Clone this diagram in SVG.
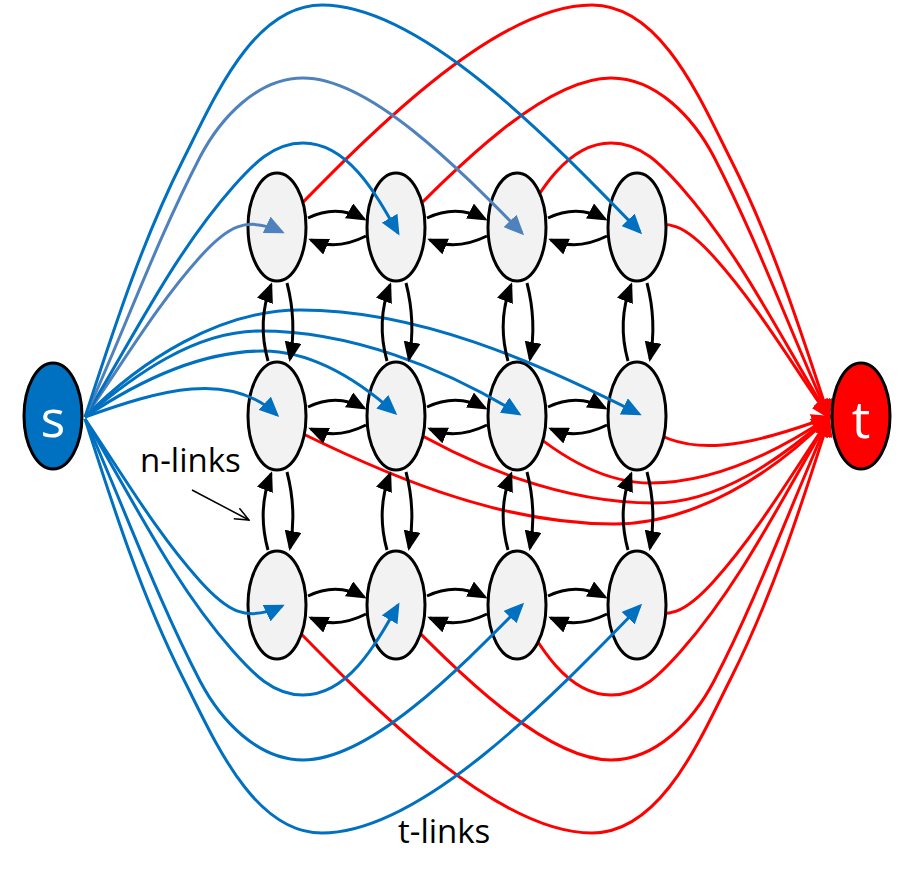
<svg xmlns="http://www.w3.org/2000/svg" width="912" height="878" viewBox="0 0 912 878">
<defs>
<style>
.node{fill:#F2F2F2;stroke:#000;stroke-width:3}
.lk{fill:none;stroke-width:3}
.bl{stroke:#0070C0;marker-end:url(#abl)}
.lb{stroke:#4F81BD;marker-end:url(#alb)}
.rd{stroke:#FF0000;marker-end:url(#ar)}
.nl{fill:none;stroke:#000;stroke-width:3;marker-end:url(#ab)}
.lbl{font-family:"Open Sans","Noto Sans","DejaVu Sans",sans-serif;font-size:33px;fill:#000}
.big{font-family:"Open Sans","Noto Sans","DejaVu Sans",sans-serif;font-size:52px;fill:#fff;text-anchor:middle}
</style>
<marker id="ab" markerUnits="userSpaceOnUse" viewBox="0 0 20 17" markerWidth="20" markerHeight="17" refX="17" refY="8.5" orient="auto"><path d="M0,0 L20,8.5 L0,17 z" fill="#000"/></marker>
<marker id="abl" markerUnits="userSpaceOnUse" viewBox="0 0 20 18" markerWidth="20" markerHeight="18" refX="17" refY="9" orient="auto"><path d="M0,0 L20,9 L0,18 z" fill="#0070C0"/></marker>
<marker id="alb" markerUnits="userSpaceOnUse" viewBox="0 0 20 18" markerWidth="20" markerHeight="18" refX="17" refY="9" orient="auto"><path d="M0,0 L20,9 L0,18 z" fill="#4F81BD"/></marker>
<marker id="ar" markerUnits="userSpaceOnUse" viewBox="0 0 20 18" markerWidth="20" markerHeight="18" refX="17" refY="9" orient="auto"><path d="M0,0 L20,9 L0,18 z" fill="#FF0000"/></marker>
<marker id="aopen" markerUnits="userSpaceOnUse" viewBox="0 0 16 14" markerWidth="16" markerHeight="14" refX="15" refY="7" orient="auto"><path d="M1,1 L15,7 L1,13" fill="none" stroke="#000" stroke-width="1.5"/></marker>
</defs>
<rect width="912" height="878" fill="#fff"/>

<g id="t-links-sink">
<path class="lk rd" d="M274,232 C365,138 494,5 592,5 C661,5 700,98.6 731,160 C772.4,242 800.5,330 829,417"/>
<path class="lk rd" d="M392,233 C455,169 544,78 611,78 C656,78 693,117 714,157 C758,242 790,331 829,417"/>
<path class="lk rd" d="M516,233 C538,194 566,143 611,143 C641,143 661,164.5 681,187 C741,255 782,340 829,417"/>
<path class="lk rd" d="M632,232 C668,215 687,227 714,257 C758,306 791,363 829,417"/>
<path class="lk rd" d="M275,420 C380,473 496,524 614,524 C694,524 773,474 829,417"/>
<path class="lk rd" d="M395,420 C472,467 564,503 654,503 C719,503 780,459 829,417"/>
<path class="lk rd" d="M519,421 C556,454 601,483 651,483 C714,483 777,452 829,417"/>
<path class="lk rd" d="M637,419 C684,464 754,444 829,417"/>
<path class="lk rd" d="M274,606 C365,700 494,833 592,833 C661,833 700,739.4 731,678 C772.4,596 800.5,508 829,419"/>
<path class="lk rd" d="M392,605 C455,669 544,760 611,760 C656,760 693,721 714,681 C758,596 790,507 829,419"/>
<path class="lk rd" d="M516,605 C538,644 566,695 611,695 C641,695 661,673.5 681,651 C741,583 782,498 829,419"/>
<path class="lk rd" d="M632,606 C668,623 687,611 714,581 C758,532 791,475 829,419"/>
</g>

<g id="n11"><ellipse class="node" cx="277" cy="227" rx="29" ry="54"/></g>
<g id="n12"><ellipse class="node" cx="396" cy="227" rx="29" ry="54"/></g>
<g id="n13"><ellipse class="node" cx="517" cy="227" rx="29" ry="54"/></g>
<g id="n14"><ellipse class="node" cx="637" cy="227" rx="29" ry="54"/></g>
<g id="n21"><ellipse class="node" cx="277" cy="416" rx="29" ry="54"/></g>
<g id="n22"><ellipse class="node" cx="396" cy="416" rx="29" ry="54"/></g>
<g id="n23"><ellipse class="node" cx="517" cy="416" rx="29" ry="54"/></g>
<g id="n24"><ellipse class="node" cx="637" cy="416" rx="29" ry="54"/></g>
<g id="n31"><ellipse class="node" cx="277" cy="605" rx="29" ry="54"/></g>
<g id="n32"><ellipse class="node" cx="396" cy="605" rx="29" ry="54"/></g>
<g id="n33"><ellipse class="node" cx="517" cy="605" rx="29" ry="54"/></g>
<g id="n34"><ellipse class="node" cx="637" cy="605" rx="29" ry="54"/></g>

<g id="s"><ellipse cx="53" cy="416" rx="29" ry="53" fill="#0070C0" stroke="#000" stroke-width="3"/><text class="big" x="53" y="437">s</text></g>
<g id="t"><ellipse cx="861" cy="416" rx="29" ry="53" fill="#FF0000" stroke="#000" stroke-width="3"/><text class="big" x="861" y="438">t</text></g>

<g id="t-links-source">
<path class="lk lb" d="M85,417 C123,363 156,306 200,257 C227,227 246,215 282,232"/>
<path class="lk bl" d="M85,417 C132,340 173,255 233,187 C253,164.5 273,143 303,143 C348,143 376,194 398,233"/>
<path class="lk lb" d="M85,417 C124,331 156,242 200,157 C221,117 258,78 303,78 C370,78 459,169 522,233"/>
<path class="lk bl" d="M85,417 C113.5,330 141.6,242 183,160 C214,98.6 253,5 322,5 C420,5 549,138 640,232"/>
<path class="lk bl" d="M85,417 C160,390 230,370 277,415"/>
<path class="lk bl" d="M85,417 C137,382 200,351 263,351 C313,351 358,380 395,413"/>
<path class="lk bl" d="M85,417 C134,375 195,331 260,331 C350,331 442,367 519,414"/>
<path class="lk bl" d="M85,417 C141,360 220,310 300,310 C418,310 534,361 639,414"/>
<path class="lk bl" d="M85,419 C123,475 156,532 200,581 C227,611 246,623 282,606"/>
<path class="lk bl" d="M85,419 C132,498 173,583 233,651 C253,673.5 273,695 303,695 C348,695 376,644 398,605"/>
<path class="lk bl" d="M85,419 C124,507 156,596 200,681 C221,721 258,760 303,760 C370,760 459,669 522,605"/>
<path class="lk bl" d="M85,419 C113.5,508 141.6,596 183,678 C214,739.4 253,833 322,833 C420,833 549,700 640,606"/>
</g>

<g id="n-links">
<path class="nl" d="M308,218 Q336.5,204 364,219"/>
<path class="nl" d="M366,236 Q336.5,251 311,240"/>
<path class="nl" d="M427,218 Q456.5,204 485,219"/>
<path class="nl" d="M487,236 Q456.5,251 430,240"/>
<path class="nl" d="M548,218 Q577,204 605,219"/>
<path class="nl" d="M607,236 Q577,251 551,240"/>
<path class="nl" d="M308,407 Q336.5,393 364,408"/>
<path class="nl" d="M366,425 Q336.5,440 311,429"/>
<path class="nl" d="M427,407 Q456.5,393 485,408"/>
<path class="nl" d="M487,425 Q456.5,440 430,429"/>
<path class="nl" d="M548,407 Q577,393 605,408"/>
<path class="nl" d="M607,425 Q577,440 551,429"/>
<path class="nl" d="M308,596 Q336.5,582 364,597"/>
<path class="nl" d="M366,614 Q336.5,629 311,618"/>
<path class="nl" d="M427,596 Q456.5,582 485,597"/>
<path class="nl" d="M487,614 Q456.5,629 430,618"/>
<path class="nl" d="M548,596 Q577,582 605,597"/>
<path class="nl" d="M607,614 Q577,629 551,618"/>
<path class="nl" d="M268,361 Q257,321.5 271,285"/>
<path class="nl" d="M287,283 Q297,321.5 290,359"/>
<path class="nl" d="M387,361 Q376,321.5 390,285"/>
<path class="nl" d="M406,283 Q416,321.5 409,359"/>
<path class="nl" d="M508,361 Q497,321.5 511,285"/>
<path class="nl" d="M527,283 Q537,321.5 530,359"/>
<path class="nl" d="M628,361 Q617,321.5 631,285"/>
<path class="nl" d="M647,283 Q657,321.5 650,359"/>
<path class="nl" d="M268,550 Q257,510.5 271,474"/>
<path class="nl" d="M287,472 Q297,510.5 290,548"/>
<path class="nl" d="M387,550 Q376,510.5 390,474"/>
<path class="nl" d="M406,472 Q416,510.5 409,548"/>
<path class="nl" d="M508,550 Q497,510.5 511,474"/>
<path class="nl" d="M527,472 Q537,510.5 530,548"/>
<path class="nl" d="M628,550 Q617,510.5 631,474"/>
<path class="nl" d="M647,472 Q657,510.5 650,548"/>
</g>

<g id="labels">
<text class="lbl" x="140" y="472">n-links</text>
<line x1="192" y1="490" x2="249" y2="520" stroke="#000" stroke-width="1.5" marker-end="url(#aopen)"/>
<text class="lbl" x="398" y="843">t-links</text>
</g>
</svg>
